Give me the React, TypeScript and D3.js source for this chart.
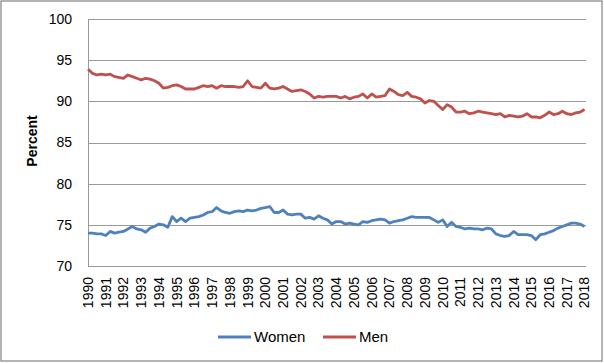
import React from "react";
import * as d3 from "d3";

const startYear = 1990;
const tickYears = d3.range(1990, 2019);
const yTicks = [70, 75, 80, 85, 90, 95, 100];

// Quarterly readings from Jan 1990 to Jan 2018
const women = [
  74.0, 74.0, 73.9, 73.9,
  73.7, 74.2, 74.0, 74.1,
  74.2, 74.5, 74.8, 74.5,
  74.4, 74.1, 74.6, 74.8,
  75.1, 75.0, 74.7, 76.0,
  75.4, 75.8, 75.4, 75.8,
  75.9, 76.0, 76.2, 76.5,
  76.6, 77.1, 76.7, 76.5,
  76.4, 76.6, 76.7, 76.6,
  76.8, 76.7, 76.8, 77.0,
  77.1, 77.2, 76.5, 76.5,
  76.8, 76.3, 76.2, 76.3,
  76.3, 75.8, 75.9, 75.7,
  76.1, 75.8, 75.6, 75.1,
  75.4, 75.4, 75.1, 75.2,
  75.1, 75.0, 75.4, 75.3,
  75.5, 75.6, 75.7, 75.6,
  75.2, 75.4, 75.5, 75.6,
  75.8, 76.0, 75.9, 75.9,
  75.9, 75.9, 75.6, 75.3,
  75.6, 74.8, 75.3, 74.8,
  74.7, 74.5, 74.6, 74.5,
  74.5, 74.4, 74.6, 74.5,
  73.9, 73.7, 73.6, 73.7,
  74.2, 73.8, 73.8, 73.8,
  73.7, 73.2, 73.8, 73.9,
  74.1, 74.3, 74.6, 74.8,
  75.0, 75.2, 75.2, 75.1,
  74.8,
];

const men = [
  93.9, 93.4, 93.2, 93.3,
  93.2, 93.3, 93.0, 92.9,
  92.8, 93.2, 93.0, 92.8,
  92.6, 92.8, 92.7, 92.5,
  92.2, 91.6, 91.7, 91.9,
  92.0, 91.8, 91.5, 91.5,
  91.5, 91.7, 91.9, 91.8,
  91.9, 91.6, 91.9, 91.8,
  91.8, 91.8, 91.7, 91.8,
  92.5, 91.8, 91.7, 91.6,
  92.2, 91.6, 91.5, 91.6,
  91.8, 91.5, 91.2, 91.3,
  91.4, 91.2, 90.9, 90.4,
  90.6, 90.5, 90.6, 90.6,
  90.6, 90.4, 90.6, 90.3,
  90.5, 90.6, 90.9, 90.4,
  90.9, 90.5, 90.6, 90.7,
  91.5, 91.2, 90.8, 90.7,
  91.1, 90.6, 90.5, 90.3,
  89.8, 90.1, 90.0, 89.5,
  89.0, 89.6, 89.3, 88.7,
  88.7, 88.8, 88.5, 88.6,
  88.8, 88.7, 88.6, 88.5,
  88.4, 88.5, 88.1, 88.3,
  88.2, 88.1, 88.2, 88.5,
  88.1, 88.1, 88.0, 88.3,
  88.7, 88.4, 88.5, 88.8,
  88.5, 88.4, 88.6, 88.7,
  89.0,
];

const series = [
  { name: "Women", values: women, color: "#4F81BD" },
  { name: "Men", values: men, color: "#C0504D" },
];

const W = 604;
const H = 363;
const left = 88;
const right = 586;
const top = 19;
const bottom = 266;
const font = "'Liberation Sans', Arial, sans-serif";

export default function App() {
  const x = d3.scaleLinear().domain([1990, 2018.08]).range([left, right]);
  const y = d3.scaleLinear().domain([70, 100]).range([bottom, top]);
  const line = d3
    .line<number>()
    .x((_, i) => x(startYear + i * 0.25))
    .y((d) => y(d));

  const legendItems = [
    { name: "Women", x0: 218, color: "#4F81BD" },
    { name: "Men", x0: 323, color: "#C0504D" },
  ];

  return (
    <div style={{ position: "fixed", left: 0, top: 0 }}>
      <svg width={W} height={H} style={{ display: "block", background: "#fff" }}>
        <rect x={1} y={1} width={601} height={360} fill="#fff" stroke="#8c8c8c" strokeWidth={1.3} />
        {yTicks.map((t) => (
          <g key={t}>
            <line x1={left} x2={right} y1={Math.round(y(t)) + 0.5} y2={Math.round(y(t)) + 0.5} stroke="#999" strokeWidth={1} />
            <text x={72} y={y(t)} dy="0.35em" textAnchor="end" fontFamily={font} fontSize={14} fill="#000">
              {t}
            </text>
          </g>
        ))}
        <line x1={left + 0.5} x2={left + 0.5} y1={top} y2={bottom} stroke="#999" strokeWidth={1} />
        {tickYears.map((yr) => (
          <text
            key={yr}
            transform={`translate(${x(yr)},277) rotate(-90)`}
            dy="0.35em"
            textAnchor="end"
            fontFamily={font}
            fontSize={14}
            fill="#000"
          >
            {yr}
          </text>
        ))}
        <text
          transform="translate(32,141) rotate(-90)"
          dy="0.35em"
          textAnchor="middle"
          fontFamily={font}
          fontSize={14}
          fontWeight="bold"
          fill="#000"
        >
          Percent
        </text>
        {series.map((s) => (
          <path key={s.name} d={line(s.values) || ""} fill="none" stroke={s.color} strokeWidth={2.8} strokeLinejoin="round" />
        ))}
        {legendItems.map((l) => (
          <g key={l.name}>
            <line x1={l.x0} x2={l.x0 + 33} y1={337} y2={337} stroke={l.color} strokeWidth={2.8} />
            <text x={l.x0 + 36} y={337} dy="0.35em" fontFamily={font} fontSize={15} fill="#000">
              {l.name}
            </text>
          </g>
        ))}
      </svg>
    </div>
  );
}
